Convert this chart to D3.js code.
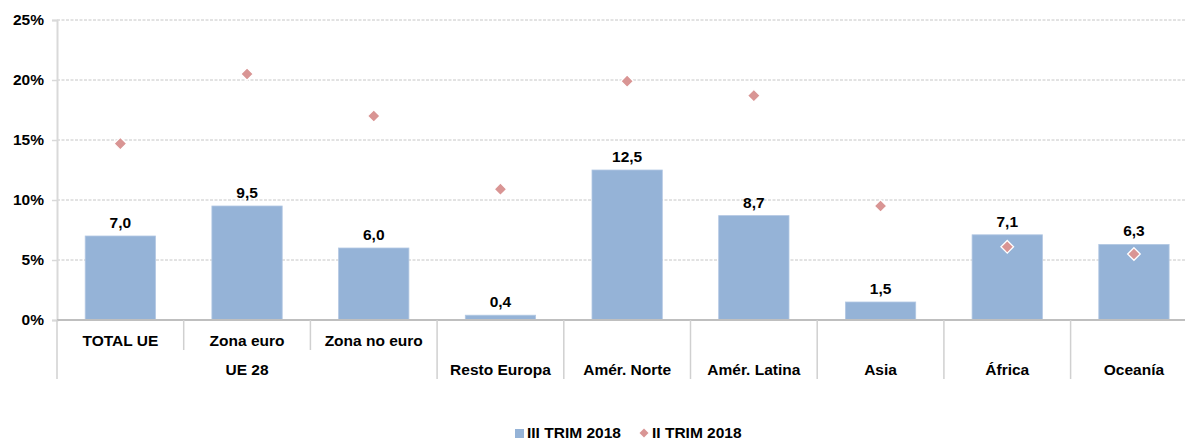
<!DOCTYPE html>
<html>
<head>
<meta charset="utf-8">
<script src="https://cdn.jsdelivr.net/npm/d3@7"></script>
<style>
  body { margin: 0; background: #fff; }
  svg text { font-family: "Liberation Sans", Arial, sans-serif; font-weight: bold; fill: #000; }
</style>
</head>
<body>
<svg id="chart" width="1185" height="442"></svg>
<script>
// Data
const categories = ['TOTAL UE', 'Zona euro', 'Zona no euro', 'Resto Europa', 'Amér. Norte', 'Amér. Latina', 'Asia', 'África', 'Oceanía']
const groupOf = ['UE 28', 'UE 28', 'UE 28', null, null, null, null, null, null]
const trim3 = [7.0, 9.5, 6.0, 0.4, 12.5, 8.7, 1.5, 7.1, 6.3]
const trim2 = [14.7, 20.5, 17.0, 10.9, 19.9, 18.7, 9.5, 6.1, 5.5]
const yTicks = [0, 5, 10, 15, 20, 25]
const seriesNames = ['III TRIM 2018', 'II TRIM 2018']

const svg = d3.select('#chart')
const plotLeft = 57, plotTop = 20, plotBottom = 320
const step = 126.7

const x = d3.scaleBand()
    .domain(categories)
    .range([plotLeft, plotLeft + step * categories.length])
    .padding(0)

const y = d3.scaleLinear().domain([0, 25]).range([plotBottom, plotTop])

const fmt = v => v.toFixed(1).replace('.', ',')

// Grid lines (dashed)
svg.append('g')
  .selectAll('line')
  .data(yTicks.filter(d => d > 0))
  .join('line')
    .attr('x1', plotLeft).attr('x2', 1185)
    .attr('y1', d => y(d)).attr('y2', d => y(d))
    .attr('stroke', '#c6c6c6')
    .attr('stroke-width', 1)
    .attr('stroke-dasharray', '3,1.5')

// Y axis
const yAxis = svg.append('g')
    .attr('transform', `translate(${plotLeft},0)`)
    .call(d3.axisLeft(y).tickValues(yTicks).tickSize(5).tickPadding(8).tickFormat(d => d + '%'))
yAxis.select('.domain').attr('stroke', '#d9d9d9').attr('stroke-width', 2)
yAxis.selectAll('.tick line').attr('stroke', '#d9d9d9').attr('stroke-width', 1.5)
yAxis.selectAll('.tick text')
    .attr('font-size', '15.5px')
    .attr('font-family', '"Liberation Sans", Arial, sans-serif')
    .attr('font-weight', 'bold')
    .attr('fill', '#000')

// Bars
const barW = x.bandwidth() * 0.555
svg.append('g')
  .selectAll('rect')
  .data(trim3)
  .join('rect')
    .attr('x', (d, i) => x(categories[i]) + (x.bandwidth() - barW) / 2)
    .attr('y', d => y(d))
    .attr('width', barW)
    .attr('height', d => y(0) - y(d))
    .attr('fill', '#95b3d7')
    .attr('stroke', '#b3c8e3')
    .attr('stroke-width', 0.8)

// Bar labels
svg.append('g')
  .selectAll('text')
  .data(trim3)
  .join('text')
    .attr('x', (d, i) => x(categories[i]) + x.bandwidth() / 2)
    .attr('y', d => y(d) - 8)
    .attr('text-anchor', 'middle')
    .attr('font-size', '15.5px')
    .text(d => fmt(d))

// Diamonds
const diamond = 'M0,-6.3L6.3,0L0,6.3L-6.3,0Z'
svg.append('g')
  .selectAll('path')
  .data(trim2)
  .join('path')
    .attr('d', diamond)
    .attr('transform', (d, i) => `translate(${x(categories[i]) + x.bandwidth() / 2},${y(d)})`)
    .attr('fill', '#d99594')
    .attr('stroke', '#fff')
    .attr('stroke-width', 1.3)

// X axis line
svg.append('line')
    .attr('x1', plotLeft).attr('x2', 1185)
    .attr('y1', plotBottom).attr('y2', plotBottom)
    .attr('stroke', '#bfbfbf')
    .attr('stroke-width', 2)

// Category separators
const edges = categories.map((c, i) => ({ pos: x(c), inner: i > 0 && groupOf[i] && groupOf[i] === groupOf[i - 1] }))
edges.push({ pos: x(categories[categories.length - 1]) + x.bandwidth(), inner: false })
svg.append('g')
  .selectAll('line')
  .data(edges)
  .join('line')
    .attr('x1', d => d.pos).attr('x2', d => d.pos)
    .attr('y1', plotBottom).attr('y2', d => d.inner ? 350 : 379)
    .attr('stroke', '#d0d0d0')
    .attr('stroke-width', 1.5)

// Category labels
svg.append('g')
  .selectAll('text')
  .data(categories)
  .join('text')
    .attr('x', d => x(d) + x.bandwidth() / 2)
    .attr('y', (d, i) => groupOf[i] ? 346 : 375)
    .attr('text-anchor', 'middle')
    .attr('font-size', '15.5px')
    .text(d => d)

// Group labels
const groups = d3.groups(categories.map((c, i) => ({ c, g: groupOf[i] })).filter(d => d.g), d => d.g)
svg.append('g')
  .selectAll('text')
  .data(groups)
  .join('text')
    .attr('x', ([g, items]) => (x(items[0].c) + x(items[items.length - 1].c) + x.bandwidth()) / 2)
    .attr('y', 375)
    .attr('text-anchor', 'middle')
    .attr('font-size', '15.5px')
    .text(([g]) => g)

// Legend
const legend = svg.append('g')
legend.append('rect')
    .attr('x', 515).attr('y', 429)
    .attr('width', 9).attr('height', 9)
    .attr('fill', '#95b3d7')
legend.append('text')
    .attr('x', 527).attr('y', 438)
    .attr('font-size', '15.5px')
    .text(seriesNames[0])
legend.append('path')
    .attr('d', 'M0,-4.5L4.5,0L0,4.5L-4.5,0Z')
    .attr('transform', 'translate(644,433)')
    .attr('fill', '#d99594')
legend.append('text')
    .attr('x', 652).attr('y', 438)
    .attr('font-size', '15.5px')
    .text(seriesNames[1])
</script>
</body>
</html>
